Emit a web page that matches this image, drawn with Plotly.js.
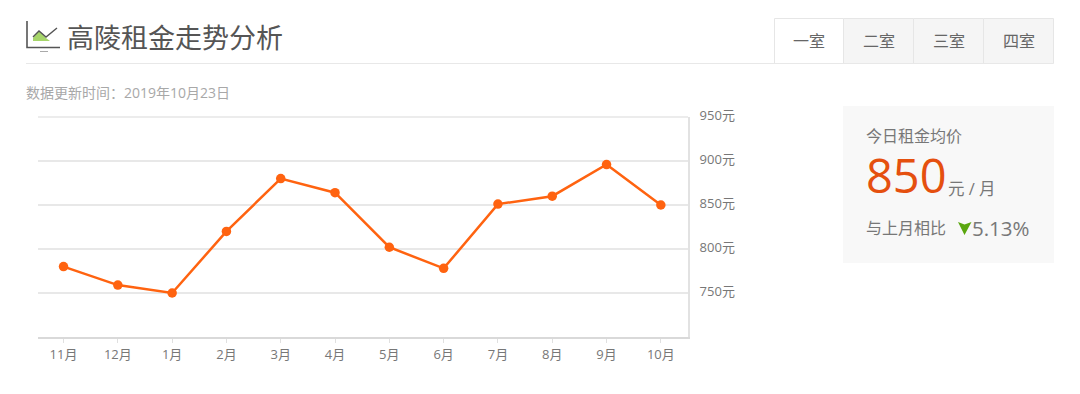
<!DOCTYPE html>
<html><head><meta charset="utf-8">
<script src="https://cdn.plot.ly/plotly-3.0.1.min.js"></script>
<style>html,body{margin:0;padding:0;background:#fff;overflow:hidden}#c{width:1080px;height:394px}</style>
</head><body><div id="c"></div>
<script>
const months = ['11月','12月','1月','2月','3月','4月','5月','6月','7月','8月','9月','10月'];
const rents = [780,759,750,820,880,864,802,778,851,860,896,850];
const yTicks = [700,750,800,850,900,950];
const yLabels = ['','750元','800元','850元','900元','950元'];
const titleText = '高陵租金走势分析';
const updatedText = '数据更新时间\uFF1A2019年10月23日';
const tabs = ['一室','二室','三室','四室'];

const W=1080,H=394,L=38,R=688,T=117,B=337;
const FONT='"Open Sans","Noto Sans CJK SC",sans-serif';
const px=x=>(x-L)/(R-L), py=y=>(B-y)/(B-T);
const rect=(x0,y0,x1,y1,fill,line)=>({type:'rect',xref:'paper',yref:'paper',x0:px(x0),x1:px(x1),y0:py(y0),y1:py(y1),fillcolor:fill,line:{color:line||fill,width:line?1:0},layer:'below'});
const seg=(x0,y0,x1,y1,color,width)=>({type:'line',xref:'paper',yref:'paper',x0:px(x0),x1:px(x1),y0:py(y0),y1:py(y1),line:{color,width}});
const poly=(pts,fill,line,width)=>({type:'path',xref:'paper',yref:'paper',path:'M'+pts.map(p=>px(p[0])+','+py(p[1])).join('L')+(fill?'Z':''),fillcolor:fill||'rgba(0,0,0,0)',line:{color:line||'rgba(0,0,0,0)',width:width||0}});
const text=(x,y,t,size,color,anchor)=>({xref:'paper',yref:'paper',x:px(x),y:py(y),text:t,showarrow:false,xanchor:anchor||'left',yanchor:'middle',font:{family:FONT,size,color},borderpad:0,borderwidth:0});

const shapes=[
  seg(26,63.5,1053,63.5,'#e8e8e8',1),
  seg(38,117,688,117,'#e6e6e6',1.5),
  rect(843,106,1054,263,'#f8f8f8'),
  rect(774.5,18.5,843.5,63.5,'#ffffff','#e6e6e6'),
  rect(843.5,18.5,913.5,63.5,'#f5f5f5','#e6e6e6'),
  rect(913.5,18.5,983.5,63.5,'#f5f5f5','#e6e6e6'),
  rect(983.5,18.5,1053.5,63.5,'#f5f5f5','#e6e6e6'),
  poly([[33,38],[39,31],[46,38],[50,41],[33,41]],'#a6d56a'),
  poly([[27,21],[27,47.5],[60,47.5]],null,'#555555',1.6),
  poly([[33,37],[39,31],[46,37],[57,28]],null,'#555555',1.4),
  seg(40,51.5,48,51.5,'#aaaaaa',1),
  poly([[958,222],[964.5,224.5],[971.5,222],[964.5,235]],'#5aa60f')
];
const annotations=[
  text(67,38,titleText,27,'#555555'),
  text(26,92.5,updatedText,14,'#a8a8a8'),
  ...tabs.map((t,i)=>text([809,879,949,1019][i],41,t,16,'#666666','center')),
  text(866,136,'今日租金均价',16,'#777777'),
  text(866,175,'850',47,'#e5500f'),
  text(948,188,'元 / 月',16.5,'#777777'),
  text(866,228,'与上月相比',16,'#777777'),
  text(972,228,'5.13%',20.5,'#777777')
];

Plotly.newPlot('c',[{
  type:'scatter',mode:'lines+markers',x:months,y:rents,
  line:{color:'#ff6310',width:2.5,shape:'linear'},
  marker:{color:'#ff6310',size:9.5},
  hoverinfo:'x+y',cliponaxis:false
}],{
  width:W,height:H,
  margin:{l:L,r:W-R,t:T,b:H-B,pad:0},
  paper_bgcolor:'#ffffff',plot_bgcolor:'#ffffff',
  showlegend:false,
  font:{family:FONT,size:13,color:'#777777'},
  xaxis:{type:'category',categoryorder:'array',categoryarray:months,range:[-0.47,11.5],
    showgrid:false,zeroline:false,showline:true,linecolor:'#d9d9d9',linewidth:2,
    ticks:'outside',ticklen:4,tickcolor:'#e0e0e0',tickwidth:1,
    tickfont:{family:FONT,size:13,color:'#777777'},fixedrange:true},
  yaxis:{side:'right',range:[700,950],tickmode:'array',tickvals:yTicks,ticktext:yLabels,
    showgrid:true,gridcolor:'#e8e8e8',gridwidth:1.5,zeroline:false,
    showline:true,linecolor:'#e2e2e2',linewidth:2,ticks:'',ticklabelstandoff:7,ticklabelshift:-2,
    tickfont:{family:FONT,size:13,color:'#777777'},fixedrange:true},
  shapes,annotations
},{displayModeBar:false,staticPlot:false});
</script></body></html>
